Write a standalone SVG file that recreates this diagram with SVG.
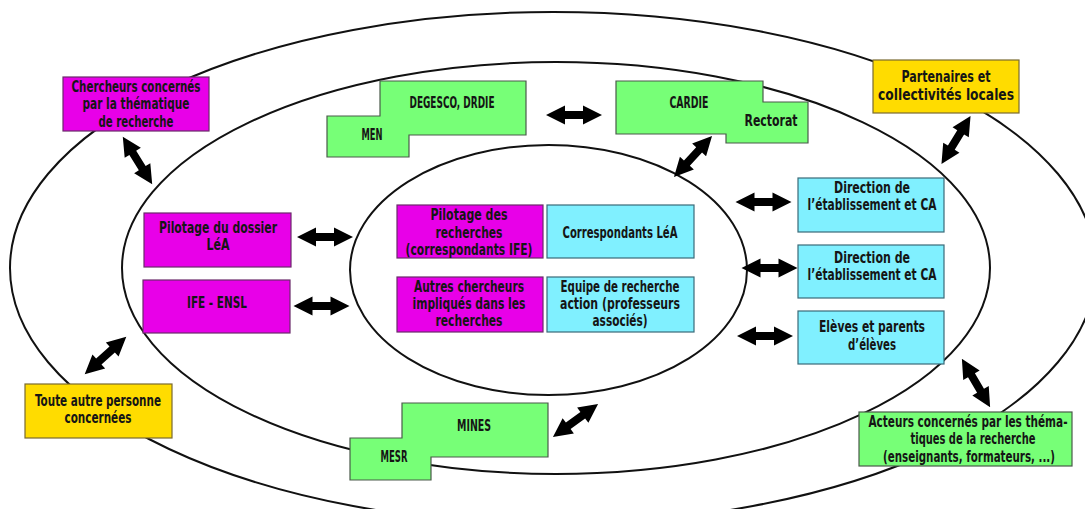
<svg xmlns="http://www.w3.org/2000/svg" width="1085" height="509" viewBox="0 0 1085 509">
<style>
.ring{fill:none;stroke:#111;stroke-width:2}
.mag{fill:#E800E8;stroke:#6a2a6a;stroke-width:1.2}
.grn{fill:#77FF77;stroke:#4a5a4a;stroke-width:1.2}
.cyn{fill:#80F0FF;stroke:#3a6a78;stroke-width:1.2}
.yel{fill:#FFDC00;stroke:#7a6a30;stroke-width:1.2}
text{font-family:"DejaVu Sans Condensed","DejaVu Sans",sans-serif;font-weight:bold;font-size:15px;fill:#151515;text-anchor:middle;dominant-baseline:central}
.arr{fill:#000}
</style>
<defs>
<path id="dbl" d="M-28,0 L-9,-9.5 L-9,-4 L9,-4 L9,-9.5 L28,0 L9,9.5 L9,4 L-9,4 L-9,9.5 Z"/>
</defs>
<rect width="1085" height="509" fill="#fff"/>
<g id="rings">
<ellipse class="ring" cx="553" cy="268" rx="543" ry="256"/>
<ellipse class="ring" cx="556" cy="268" rx="434" ry="206"/>
<ellipse class="ring" cx="548.5" cy="270" rx="198.5" ry="125"/>
</g>
<g id="connectors" class="arr">
<use href="#dbl" transform="translate(137.5,160.5) rotate(58.3)"/>
<use href="#dbl" transform="translate(574,115)"/>
<use href="#dbl" transform="translate(693,156.5) rotate(132.8)"/>
<use href="#dbl" transform="translate(956,140) rotate(121.3)"/>
<use href="#dbl" transform="translate(763.5,202)"/>
<use href="#dbl" transform="translate(769.5,268)"/>
<use href="#dbl" transform="translate(765,336)"/>
<use href="#dbl" transform="translate(325,237)"/>
<use href="#dbl" transform="translate(321.5,306)"/>
<use href="#dbl" transform="translate(105.5,355.5) rotate(138)"/>
<use href="#dbl" transform="translate(575.5,420.5) rotate(143.7)"/>
<use href="#dbl" transform="translate(976,383) rotate(59.7)"/>
</g>
<g id="chercheurs">
<rect class="mag" x="63" y="77" width="146" height="54"/>
<text x="136" y="87" textLength="129" lengthAdjust="spacingAndGlyphs">Chercheurs concernés</text>
<text x="136" y="104" textLength="107" lengthAdjust="spacingAndGlyphs">par la thématique</text>
<text x="136" y="122" textLength="75" lengthAdjust="spacingAndGlyphs">de recherche</text>
</g>
<g id="men">
<path class="grn" d="M380,81 H526 V135 H409 V157 H327 V116 H380 Z"/>
<text x="452" y="103" textLength="85" lengthAdjust="spacingAndGlyphs">DEGESCO, DRDIE</text>
<text x="372" y="135" textLength="21" lengthAdjust="spacingAndGlyphs">MEN</text>
</g>
<g id="cardie">
<path class="grn" d="M616,81 H763 V102 H808 V143 H726 V134 H616 Z"/>
<text x="689" y="103" textLength="39" lengthAdjust="spacingAndGlyphs">CARDIE</text>
<text x="771" y="121" textLength="53" lengthAdjust="spacingAndGlyphs">Rectorat</text>
</g>
<g id="partenaires">
<rect class="yel" x="873" y="60" width="146" height="53"/>
<text x="946" y="77" textLength="89" lengthAdjust="spacingAndGlyphs">Partenaires et</text>
<text x="946" y="95" textLength="136" lengthAdjust="spacingAndGlyphs">collectivités locales</text>
</g>
<g id="pilotage-dossier">
<rect class="mag" x="144" y="213" width="147" height="54"/>
<text x="218" y="228" textLength="118" lengthAdjust="spacingAndGlyphs">Pilotage du dossier</text>
<text x="218" y="245" textLength="23" lengthAdjust="spacingAndGlyphs">LéA</text>
</g>
<g id="ife">
<rect class="mag" x="143" y="280" width="147" height="53"/>
<text x="217" y="303" textLength="60" lengthAdjust="spacingAndGlyphs">IFE - ENSL</text>
</g>
<g id="pilotage-recherches">
<rect class="mag" x="397" y="205" width="146" height="53"/>
<text x="469" y="215" textLength="77" lengthAdjust="spacingAndGlyphs">Pilotage des</text>
<text x="469" y="233" textLength="67" lengthAdjust="spacingAndGlyphs">recherches</text>
<text x="469" y="250" textLength="127" lengthAdjust="spacingAndGlyphs">(correspondants IFE)</text>
</g>
<g id="correspondants">
<rect class="cyn" x="547" y="205" width="147" height="53"/>
<text x="620" y="233" textLength="115" lengthAdjust="spacingAndGlyphs">Correspondants LéA</text>
</g>
<g id="autres">
<rect class="mag" x="397" y="277" width="146" height="55"/>
<text x="469" y="287" textLength="110" lengthAdjust="spacingAndGlyphs">Autres chercheurs</text>
<text x="469" y="304" textLength="113" lengthAdjust="spacingAndGlyphs">impliqués dans les</text>
<text x="469" y="321" textLength="67" lengthAdjust="spacingAndGlyphs">recherches</text>
</g>
<g id="equipe">
<rect class="cyn" x="547" y="277" width="147" height="55"/>
<text x="620" y="287" textLength="119" lengthAdjust="spacingAndGlyphs">Equipe de recherche</text>
<text x="620" y="304" textLength="120" lengthAdjust="spacingAndGlyphs">action (professeurs</text>
<text x="620" y="321" textLength="55" lengthAdjust="spacingAndGlyphs">associés)</text>
</g>
<g id="direction1">
<rect class="cyn" x="798" y="178" width="146" height="54"/>
<text x="872" y="188" textLength="76" lengthAdjust="spacingAndGlyphs">Direction de</text>
<text x="872" y="205" textLength="129" lengthAdjust="spacingAndGlyphs">l’établissement et CA</text>
</g>
<g id="direction2">
<rect class="cyn" x="798" y="245" width="146" height="53"/>
<text x="872" y="258" textLength="76" lengthAdjust="spacingAndGlyphs">Direction de</text>
<text x="872" y="275" textLength="129" lengthAdjust="spacingAndGlyphs">l’établissement et CA</text>
</g>
<g id="eleves">
<rect class="cyn" x="798" y="311" width="146" height="53"/>
<text x="872" y="327" textLength="106" lengthAdjust="spacingAndGlyphs">Elèves et parents</text>
<text x="872" y="345" textLength="48" lengthAdjust="spacingAndGlyphs">d’élèves</text>
</g>
<g id="toute">
<rect class="yel" x="25" y="384" width="147" height="54"/>
<text x="98" y="401" textLength="126" lengthAdjust="spacingAndGlyphs">Toute autre personne</text>
<text x="98" y="418" textLength="67" lengthAdjust="spacingAndGlyphs">concernées</text>
</g>
<g id="mines">
<path class="grn" d="M402,403 H548 V457 H431 V480 H350 V438 H402 Z"/>
<text x="474" y="426" textLength="34" lengthAdjust="spacingAndGlyphs">MINES</text>
<text x="394" y="457" textLength="27" lengthAdjust="spacingAndGlyphs">MESR</text>
</g>
<g id="acteurs">
<rect class="grn" x="859" y="412" width="213" height="54"/>
<text x="968" y="422" textLength="199" lengthAdjust="spacingAndGlyphs">Acteurs concernés par les théma-</text>
<text x="973" y="439" textLength="125" lengthAdjust="spacingAndGlyphs">tiques de la recherche</text>
<text x="969" y="457" textLength="172" lengthAdjust="spacingAndGlyphs">(enseignants, formateurs, ...)</text>
</g>
</svg>
